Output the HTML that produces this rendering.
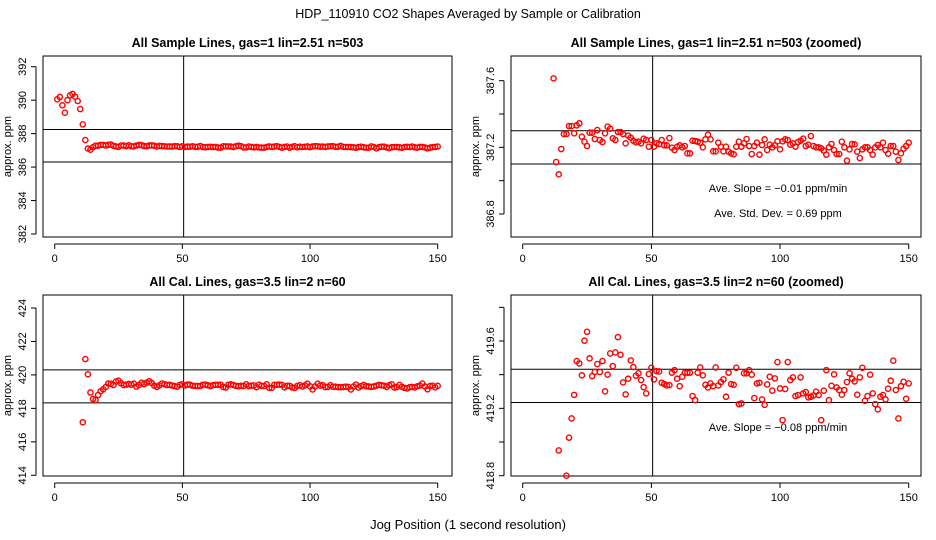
<!DOCTYPE html>
<html><head><meta charset="utf-8"><style>
html,body{margin:0;padding:0;background:#fff;width:936px;height:540px;overflow:hidden}
svg{display:block;font-family:"Liberation Sans",sans-serif}
</style></head><body>
<svg id="c" width="936" height="540" viewBox="0 0 936 540">
<text x="468" y="18" text-anchor="middle" font-size="12.5">HDP_110910  CO2 Shapes Averaged by Sample or Calibration</text>
<text x="468" y="529" text-anchor="middle" font-size="13">Jog Position (1 second resolution)</text>
</svg>
<script>
const xTicks=[0,50,100,150];
const sampleValues=[390.05,390.19,389.69,389.25,390.0,390.29,390.37,390.21,389.95,389.47,388.55,
387.614,387.112,387.038,387.19,387.28,387.28,387.328,387.328,387.284,387.332,387.344,387.264,387.234,387.208,387.288,387.288,387.25,387.304,387.244,387.232,387.284,387.324,387.312,387.254,387.244,387.292,387.292,387.28,387.224,
387.27,387.258,387.24,387.23,387.234,387.224,387.252,387.244,387.204,387.244,
387.204,387.224,387.22,387.244,387.212,387.212,387.256,387.198,387.184,387.204,387.212,387.2,387.208,387.164,387.164,387.24,387.238,387.234,387.228,387.2,
387.248,387.276,387.248,387.176,387.176,387.228,387.204,387.176,387.204,387.174,387.164,387.158,387.204,387.234,387.204,387.224,387.25,387.208,387.16,387.208,
387.228,387.156,387.214,387.248,387.184,387.216,387.2,387.212,387.236,387.188,387.236,387.248,387.244,387.216,387.224,387.204,387.232,387.24,387.252,387.208,
387.216,387.268,387.208,387.2,387.2,387.194,387.18,387.156,387.2,387.22,387.184,387.16,387.16,387.234,387.2,387.12,387.188,387.22,387.218,387.174,
387.136,387.188,387.2,387.2,387.184,387.156,387.2,387.214,387.2,387.228,387.184,387.162,387.208,387.208,387.174,387.124,387.164,387.192,387.208,387.228];
const calValues=[null,null,null,null,null,null,null,null,null,null,
417.17,420.95,420.04,418.95,418.56,418.50,418.80,419.026,419.14,419.28,
419.481,419.467,419.396,419.602,419.655,419.497,419.392,419.416,419.463,419.416,
419.481,419.301,419.400,419.526,419.451,419.532,419.623,419.518,419.354,419.283,
419.376,419.485,419.445,419.394,419.408,419.368,419.326,419.289,419.404,419.441,
419.372,419.421,419.419,419.352,419.344,419.336,419.338,419.412,419.427,419.376,
419.332,419.388,419.412,419.412,419.412,419.273,419.249,419.412,419.443,419.396,
419.340,419.324,419.348,419.332,419.443,419.336,419.356,419.372,419.269,419.412,
419.344,419.340,419.441,419.225,419.229,419.408,419.408,419.427,419.400,419.261,
419.348,419.352,419.253,419.221,419.342,419.388,419.305,419.378,419.475,419.318,
419.130,419.315,419.475,419.368,419.384,419.273,419.279,419.384,419.289,419.297,
419.265,419.269,419.277,419.299,419.279,419.130,419.305,419.427,419.249,419.334,
419.402,419.324,419.309,419.281,419.309,419.356,419.408,419.376,419.360,419.281,
419.384,419.441,419.245,419.273,419.400,419.289,419.225,419.194,419.269,419.279,
419.253,419.317,419.364,419.483,419.309,419.140,419.332,419.358,419.257,419.348];
const tlYTicks=[382,384,386,388,390,392], tlYLabels=["382","384","386","388","390","392"];
const trYTicks=[386.8,387.0,387.2,387.4,387.6], trYLabels=["386.8","","387.2","","387.6"];
const blYTicks=[414,416,418,420,422,424], blYLabels=["414","416","418","420","422","424"];
const brYTicks=[418.8,419.0,419.2,419.4,419.6,419.8], brYLabels=["418.8","","419.2","","419.6",""];
const tlHLines=[388.25,386.3], trHLines=[387.30,387.10], blHLines=[420.3,418.33], brHLines=[419.432,419.235];
const vLine=50.5;

const svg=document.getElementById('c');
const NS='http://www.w3.org/2000/svg';
function mk(tag,attrs,parent){const e=document.createElementNS(NS,tag);for(const k in attrs)e.setAttribute(k,attrs[k]);(parent||svg).appendChild(e);return e;}

function panel(o){
  const g=mk('g',{});
  
  
  const sx=v=>o.x0+(v-0)*(o.x150-o.x0)/150;
  const sy=v=>o.ya+(v-o.va)*(o.yb-o.ya)/(o.vb-o.va);
  const t=mk('text',{x:(o.bx0+o.bx1)/2,y:o.by0-9,'text-anchor':'middle','font-size':12.5,'font-weight':'bold'},g);
  t.textContent=o.title;
  
  
  const box=mk('rect',{x:o.bx0,y:o.by0,width:o.bx1-o.bx0,height:o.by1-o.by0,fill:'none',stroke:'#000','stroke-width':1},g);
  
  
  const xa=mk('g',{},g);
  
  
  mk('line',{x1:sx(xTicks[0]),x2:sx(xTicks[xTicks.length-1]),y1:o.by1+7,y2:o.by1+7,stroke:'#000'},xa);
  xTicks.forEach(v=>{
    mk('line',{x1:sx(v),x2:sx(v),y1:o.by1+7,y2:o.by1+12,stroke:'#000'},xa);
    const l=mk('text',{x:sx(v),y:o.by1+25,'text-anchor':'middle','font-size':11},xa);
    l.textContent=String(v);
    
    
  });
  const ya=mk('g',{},g);
  
  
  const ax=o.bx0-7;
  mk('line',{x1:ax,x2:ax,y1:sy(o.yt[0]),y2:sy(o.yt[o.yt.length-1]),stroke:'#000'},ya);
  o.yt.forEach((v,i)=>{
    mk('line',{x1:ax-5,x2:ax,y1:sy(v),y2:sy(v),stroke:'#000'},ya);
    if(o.yl[i]){
      const l=mk('text',{x:ax-10,y:sy(v),'text-anchor':'middle','font-size':11,transform:`rotate(-90 ${ax-10} ${sy(v)})`},ya);
      l.textContent=o.yl[i];
      
      
    }
  });
  const yt=mk('text',{x:o.bx0-32,y:(o.by0+o.by1)/2,'text-anchor':'middle','font-size':11,transform:`rotate(-90 ${o.bx0-32} ${(o.by0+o.by1)/2})`},g);
  yt.textContent='approx. ppm';
  
  
  o.hl.forEach(v=>{
    const l=mk('line',{x1:o.bx0,x2:o.bx1,y1:sy(v),y2:sy(v),stroke:'#000'},g);
    
    
  });
  const vl=mk('line',{x1:sx(vLine),x2:sx(vLine),y1:o.by0,y2:o.by1,stroke:'#000'},g);
  
  
  const pg=mk('g',{},g);
  
  
  o.data.forEach((v,i)=>{
    if(v===null)return;
    const cy=sy(v);
    if(cy<o.by0||cy>o.by1)return;
    const c=mk('circle',{cx:sx(i+1),cy:cy,r:2.6,fill:'none',stroke:'#f00','stroke-width':1.4},pg);
    
    
  });
  (o.notes||[]).forEach(n=>{
    const t2=mk('text',{x:n[0],y:n[1],'text-anchor':'middle','font-size':11},g);
    t2.textContent=n[2];
    
    
  });
}
panel({name:'panel-sample',title:'All Sample Lines, gas=1 lin=2.51 n=503',bx0:43,bx1:452,by0:56,by1:237,x0:54.7,x150:437.7,va:392,ya:66.7,vb:382,yb:234,yt:tlYTicks,yl:tlYLabels,hl:tlHLines,data:sampleValues});
panel({name:'panel-sample-zoomed',title:'All Sample Lines, gas=1 lin=2.51 n=503 (zoomed)',bx0:511,bx1:921,by0:56,by1:237,x0:522.7,x150:908.7,va:387.6,ya:80.7,vb:386.8,yb:214,yt:trYTicks,yl:trYLabels,hl:trHLines,data:sampleValues,
  notes:[[778,192,'Ave. Slope =  \u22120.01  ppm/min'],[778,217,'Ave. Std. Dev. =  0.69  ppm']]});
panel({name:'panel-cal',title:'All Cal. Lines, gas=3.5 lin=2 n=60',bx0:43,bx1:452,by0:295,by1:476,x0:54.7,x150:437.7,va:424,ya:308,vb:414,yb:475.3,yt:blYTicks,yl:blYLabels,hl:blHLines,data:calValues});
panel({name:'panel-cal-zoomed',title:'All Cal. Lines, gas=3.5 lin=2 n=60 (zoomed)',bx0:511,bx1:921,by0:295,by1:476,x0:522.7,x150:908.7,va:419.6,ya:341,vb:418.8,yb:475.7,yt:brYTicks,yl:brYLabels,hl:brHLines,data:calValues,
  notes:[[778,431,'Ave. Slope =  \u22120.08  ppm/min']]});
</script>
</body></html>
